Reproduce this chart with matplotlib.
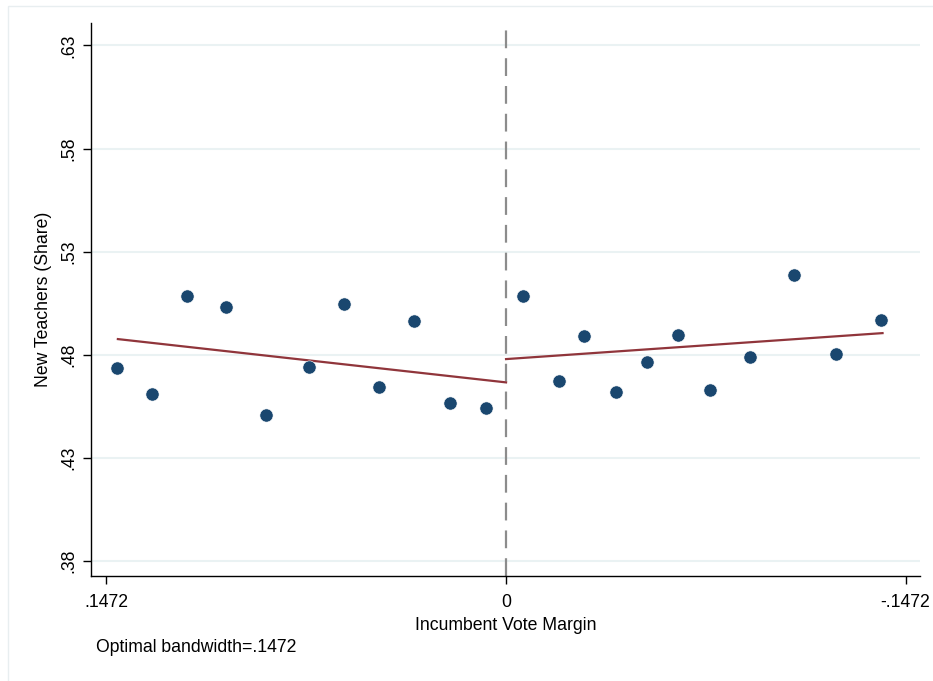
import matplotlib.pyplot as plt
from matplotlib.patches import Rectangle

# binned means, left of cutoff (x reversed: positive margin on the left)
x_left = [0.1433, 0.1304, 0.1175, 0.1033, 0.0885, 0.0727, 0.0597, 0.0468, 0.0339, 0.0205, 0.0073]
y_left = [0.4736, 0.4611, 0.5086, 0.5033, 0.4508, 0.4740, 0.5046, 0.4642, 0.4963, 0.4564, 0.4542]

# binned means, right of cutoff
x_right = [-0.0062, -0.0195, -0.0288, -0.0404, -0.0520, -0.0635, -0.0751, -0.0898, -0.1062, -0.1215, -0.1383]
y_right = [0.5086, 0.4671, 0.4892, 0.4617, 0.4765, 0.4894, 0.4629, 0.4789, 0.5186, 0.4805, 0.4970]

# linear fits (end points)
fit_left_x = [0.1430, 0.0]
fit_left_y = [0.4876, 0.4666]
fit_right_x = [0.0, -0.1387]
fit_right_y = [0.4779, 0.4905]

xticks = [0.1472, 0.0, -0.1472]
xtick_labels = [".1472", "0", "-.1472"]
yticks = [0.38, 0.43, 0.48, 0.53, 0.58, 0.63]
ytick_labels = [".38", ".43", ".48", ".53", ".58", ".63"]

navy = "#1a476f"
maroon = "#90353b"

plt.rcParams["font.family"] = ["Liberation Sans", "DejaVu Sans"]

W, H = 933, 681
fig = plt.figure(figsize=(W / 100, H / 100), dpi=100)
fig.patches.append(Rectangle((8 / W, -0.1), 1, 1.1 - 6 / H, transform=fig.transFigure,
                             fill=False, edgecolor="#e8eef0", linewidth=1))

ax = fig.add_axes([91 / W, 1 - 576 / H, (920 - 91) / W, (576 - 23) / H])
ax.set_xlim(0.1529, -0.1525)
ax.set_ylim(0.3727, 0.6409)

for yt in yticks:
    ax.axhline(yt, color="#eaf2f3", linewidth=1.5, zorder=0)
ax.axvline(0, color="#8c8c8c", linewidth=1.6, dashes=(8, 4.5), zorder=1)

ax.plot(fit_left_x, fit_left_y, color=maroon, linewidth=1.6, zorder=2)
ax.plot(fit_right_x, fit_right_y, color=maroon, linewidth=1.6, zorder=2)
ax.plot(x_left, y_left, "o", color=navy, markersize=9.5, markeredgecolor="white",
        markeredgewidth=0.4, zorder=3)
ax.plot(x_right, y_right, "o", color=navy, markersize=9.5, markeredgecolor="white",
        markeredgewidth=0.4, zorder=3)

for s in ["top", "right"]:
    ax.spines[s].set_visible(False)
for s in ["left", "bottom"]:
    ax.spines[s].set_linewidth(1.0)

ax.set_xticks(xticks)
ax.set_xticklabels(xtick_labels)
ax.set_yticks(yticks)
ax.set_yticklabels(ytick_labels, rotation=90, va="center")
ax.tick_params(axis="both", labelsize=12.7, length=6, width=1.0, pad=4)
ax.tick_params(axis="x", pad=7)

ax.set_xlabel("Incumbent Vote Margin", fontsize=12.7, labelpad=4)
ax.set_ylabel("New Teachers (Share)", fontsize=12.7, labelpad=6)

fig.text(96 / W, 1 - 648 / H, "Optimal bandwidth=.1472", fontsize=12.7,
         ha="left", va="center")

fig.savefig("out.png", dpi=100)
